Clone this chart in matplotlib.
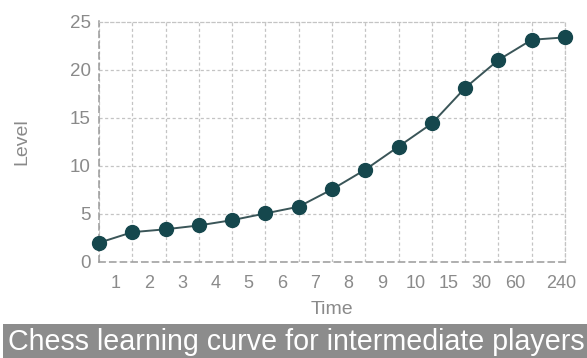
import matplotlib
matplotlib.use("Agg")
import matplotlib.pyplot as plt
from matplotlib.patches import Rectangle

plt.rcParams['font.family'] = ['Liberation Sans', 'DejaVu Sans']

levels = [2.0, 3.1, 3.4, 3.8, 4.35, 5.05, 5.75, 7.55, 9.6, 12.0, 14.4, 18.1, 21.0, 23.1, 23.35]
tick_labels = ['1', '2', '3', '4', '5', '6', '7', '8', '9', '10', '15', '30', '60', '240']
tick_pos = [0.5, 1.5, 2.5, 3.5, 4.5, 5.5, 6.5, 7.5, 8.5, 9.5, 10.5, 11.5, 12.5, 13.9]
y_ticks = [0, 5, 10, 15, 20, 25]

W, H = 587, 358
fig = plt.figure(figsize=(W / 100, H / 100), dpi=100)
ax = fig.add_axes([99 / W, 1 - 262 / H, (565 - 99) / W, (262 - 21.5) / H])

x = list(range(len(levels)))
ax.plot(x, levels, color='#3a5558', lw=1.4, marker='o', markersize=10,
        markerfacecolor='#15474d', markeredgecolor='#15474d', zorder=3, clip_on=False)

ax.set_xlim(0, len(levels) - 1)
ax.set_ylim(0, 25)
ax.set_yticks(y_ticks)
ax.set_xticks(tick_pos)
ax.set_xticklabels(tick_labels)
ax.set_xticks(x, minor=True)

grid_color = '#c4c4c4'
ax.grid(False)
ax.yaxis.grid(True, color=grid_color, linestyle=(0, (2.5, 2)), lw=0.9)
ax.xaxis.grid(True, which='minor', color=grid_color, linestyle=(0, (2.5, 2)), lw=0.9)

for s in ['top', 'right']:
    ax.spines[s].set_visible(True)
    ax.spines[s].set_color(grid_color)
    ax.spines[s].set_linestyle((0, (2.5, 2)))
    ax.spines[s].set_linewidth(0.9)
for s in ['left', 'bottom']:
    ax.spines[s].set_color('#9a9a9a')
    ax.spines[s].set_linestyle((0, (4, 3)))
    ax.spines[s].set_linewidth(1.1)

ax.tick_params(axis='both', which='both', length=0, colors='#8a8a8a', labelsize=13.5)
ax.tick_params(axis='x', labelsize=13, pad=9)
ax.tick_params(axis='y', pad=6)

ax.set_xlabel('Time', color='#8a8a8a', fontsize=14, labelpad=7)
ax.set_ylabel('Level', color='#8a8a8a', fontsize=14, labelpad=28)

fig.patches.append(Rectangle((3 / W, 0), 1, 34 / H, transform=fig.transFigure,
                             facecolor='#8c8c8c', edgecolor='none', zorder=0))
fig.text(8 / W, 16 / H, 'Chess learning curve for intermediate players',
         color='white', fontsize=20.6, ha='left', va='center')

fig.savefig('out.png', dpi=100, facecolor='white')
